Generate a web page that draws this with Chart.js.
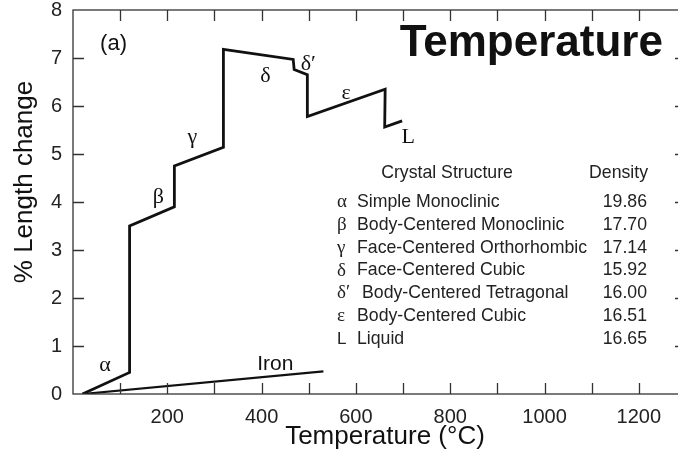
<!DOCTYPE html>
<html>
<head>
<meta charset="utf-8">
<script src="https://cdn.jsdelivr.net/npm/chart.js@4"></script>
<style>
  html, body { margin: 0; padding: 0; background: #fff; overflow: hidden; }
  #wrap { width: 690px; height: 454px; }
</style>
</head>
<body>
<div id="wrap"><canvas id="grafico"></canvas></div>
<script>
// plutonium curve (temperature in °C, % length change)
const tempPu = [20, 120, 120, 215, 215, 319, 319, 467, 469, 497, 497, 662, 661, 698];
const lenPu  = [0, 0.45, 3.5, 3.9, 4.75, 5.14, 7.18, 6.97, 6.76, 6.65, 5.78, 6.35, 5.56, 5.69];

// iron for comparison
const tempFe = [20, 531];
const lenFe  = [0, 0.47];

// phase labels on the curve
const fases  = ["α", "β", "γ", "δ", "δ′", "ε", "L"];
const faseX  = [68, 181, 253, 408, 499, 579, 711];
const faseY  = [0.6, 4.1, 5.35, 6.62, 6.87, 6.26, 5.35];

// table
const simbolos  = ["α", "β", "γ", "δ", "δ′", "ε", "L"];
const estruturas = ["Simple Monoclinic", "Body-Centered Monoclinic", "Face-Centered Orthorhombic",
  "Face-Centered Cubic", "Body-Centered Tetragonal", "Body-Centered Cubic", "Liquid"];
const densidades = ["19.86", "17.70", "17.14", "15.92", "16.00", "16.51", "16.65"];

const xTicks = [100, 200, 300, 400, 500, 600, 700, 800, 900, 1000, 1100, 1200];
const yTicks = [1, 2, 3, 4, 5, 6, 7];

const sans = "'Liberation Sans', Arial, sans-serif";
const serif = "'Liberation Serif', 'DejaVu Serif', serif";

function pontos(xs, ys) {
  return xs.map((x, i) => ({ x: x, y: ys[i] }));
}

// desenha a moldura, os ticks para dentro e os textos
const extras = {
  id: "extras",
  afterDraw(chart) {
    const ctx = chart.ctx;
    const a = chart.chartArea;
    const sx = chart.scales.x;
    const sy = chart.scales.y;
    ctx.save();
    ctx.strokeStyle = "#333";
    ctx.lineWidth = 1.3;
    ctx.strokeRect(a.left, a.top, a.right - a.left, a.bottom - a.top);

    ctx.beginPath();
    xTicks.forEach(v => {
      const px = Math.round(sx.getPixelForValue(v)) + 0.5;
      ctx.moveTo(px, a.bottom); ctx.lineTo(px, a.bottom - 11);
      ctx.moveTo(px, a.top); ctx.lineTo(px, a.top + 11);
    });
    yTicks.forEach(v => {
      const py = Math.round(sy.getPixelForValue(v)) + 0.5;
      ctx.moveTo(a.left, py); ctx.lineTo(a.left + 11, py);
      ctx.moveTo(a.right, py); ctx.lineTo(a.right - 11, py);
    });
    ctx.stroke();

    ctx.fillStyle = "#111";
    ctx.textBaseline = "middle";
    ctx.textAlign = "center";

    // titulos dos eixos
    ctx.font = "26px " + sans;
    ctx.fillText("Temperature (°C)", 385, 437);
    ctx.save();
    ctx.translate(25, 182);
    ctx.rotate(-Math.PI / 2);
    ctx.fillText("% Length change", 0, 0);
    ctx.restore();

    // letras das fases
    ctx.font = "22px " + serif;
    fases.forEach((f, i) => {
      ctx.fillText(f, sx.getPixelForValue(faseX[i]), sy.getPixelForValue(faseY[i]));
    });
    ctx.font = "21px " + sans;
    ctx.fillText("Iron", sx.getPixelForValue(429), sy.getPixelForValue(0.63));
    ctx.font = "22px " + sans;
    ctx.fillText("(a)", sx.getPixelForValue(86), sy.getPixelForValue(7.3));

    ctx.font = "bold 44px " + sans;
    ctx.textAlign = "right";
    ctx.textBaseline = "alphabetic";
    ctx.fillText("Temperature", sx.getPixelForValue(1251), sy.getPixelForValue(7.05));

    // tabela
    ctx.fillStyle = "#222";
    ctx.textBaseline = "middle";
    const y0 = sy.getPixelForValue(4.6);
    const dy = 22.8;
    ctx.font = "17.7px " + sans;
    ctx.textAlign = "center";
    ctx.fillText("Crystal Structure", 447, y0);
    ctx.textAlign = "right";
    ctx.fillText("Density", 648, y0);
    estruturas.forEach((e, i) => {
      const y = y0 + 29 + i * dy;
      ctx.textAlign = "left";
      ctx.font = (simbolos[i] === "L" ? "17px " + sans : "19px " + serif);
      ctx.fillText(simbolos[i], 337, y);
      ctx.font = "17.7px " + sans;
      ctx.fillText(e, simbolos[i] === "δ′" ? 362 : 357, y);
      ctx.textAlign = "right";
      ctx.fillText(densidades[i], 647, y);
    });
    ctx.restore();
  }
};

const grafico = new Chart(document.getElementById("grafico"), {
  type: "scatter",
  data: {
    datasets: [
      {
        label: "Pu",
        data: pontos(tempPu, lenPu),
        showLine: true,
        borderColor: "#111",
        borderWidth: 2.8,
        pointRadius: 0,
        tension: 0,
      },
      {
        label: "Iron",
        data: pontos(tempFe, lenFe),
        showLine: true,
        borderColor: "#111",
        borderWidth: 2.2,
        pointRadius: 0,
      },
    ],
  },
  options: {
    responsive: true,
    maintainAspectRatio: false,
    animation: false,
    layout: { padding: { top: 10, right: 4, left: 0, bottom: 0 } },
    plugins: { legend: { display: false }, tooltip: { enabled: false } },
    scales: {
      x: {
        type: "linear",
        min: 0,
        max: 1300,
        grid: { display: false, drawTicks: false },
        border: { display: false },
        ticks: {
          stepSize: 100,
          autoSkip: false,
          maxRotation: 0,
          padding: 11,
          color: "#222",
          font: { family: sans, size: 20 },
          callback: v => (v > 0 && v % 200 === 0 ? v : ""),
        },
        afterFit: s => { s.height = 60; s.paddingLeft = 0; s.paddingRight = 0; },
      },
      y: {
        min: 0,
        max: 8,
        grid: { display: false, drawTicks: false },
        border: { display: false },
        ticks: {
          stepSize: 1,
          padding: 11,
          color: "#222",
          font: { family: sans, size: 20 },
        },
        afterFit: s => { s.width = 73; s.paddingTop = 0; s.paddingBottom = 0; },
      },
    },
  },
  plugins: [extras],
});
</script>
</body>
</html>
